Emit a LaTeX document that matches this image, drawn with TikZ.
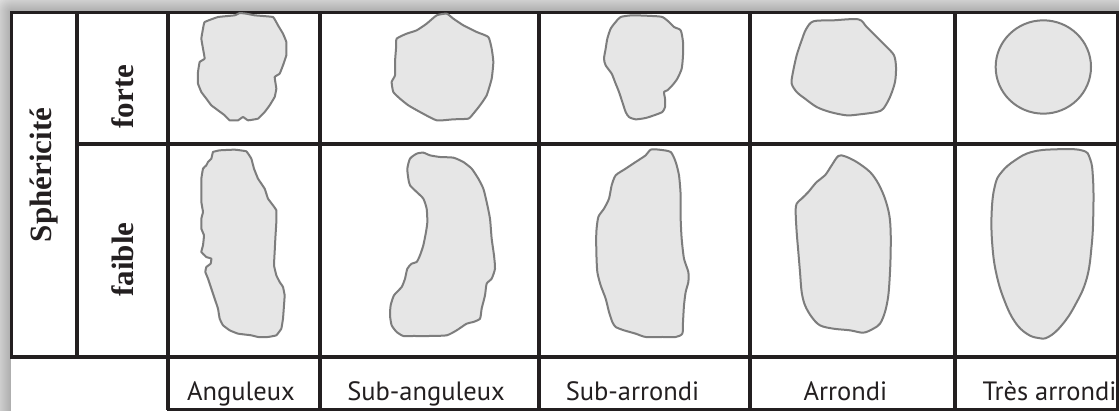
\documentclass[tikz,border=0pt]{standalone}
\usepackage{fontspec}
\setmainfont{Liberation Serif}
\newfontfamily\labelfont{PT Sans}
\definecolor{ink}{HTML}{231F20}
\definecolor{grainfill}{HTML}{E6E6E6}
\definecolor{grainedge}{HTML}{7D7D7D}
\begin{document}
\begin{tikzpicture}[x=1pt,y=-1pt,
  rule/.style={line width=3.5pt, draw=ink},
  grain/.style={fill=grainfill, draw=grainedge, line width=2pt, line join=round},
  rowhead/.style={rotate=90, font=\bfseries\fontsize{31}{36}\selectfont, text=ink, inner sep=0pt},
  roundness/.style={font=\labelfont\fontsize{26.5}{30}\selectfont, text=ink, anchor=base, inner sep=0pt},
  cell/.style={shift={#1}, scale=1/3}]
\useasboundingbox (0,0) rectangle (1119,411);

% soft shadow around the table
\begin{scope}
  \clip (0,0) rectangle (1119,411);
  \foreach \i in {0,...,24}
    \fill[black, opacity=0.016, rounded corners=\i pt] (11-\i,12-\i) rectangle (1150+\i,440+\i);
  \fill[white] (11,12) rectangle (1119,411);
\end{scope}

% grid
\draw[rule] (11.5,357) -- (11.5,12.5) -- (1119,12.5);
\draw[rule] (10,357) -- (1119,357);
\draw[rule] (77,12) -- (77,357);
\draw[rule] (77,144) -- (1119,144);
\foreach \cx in {168,320,539,750,955,1117.5}
  \draw[rule] (\cx,12) -- (\cx,409.5);
\draw[rule, line width=3pt] (166.5,409.5) -- (1119,409.5);

% row headers
\node[rowhead] (spher) at (44,175) {Sphéricité};
\node[rowhead] (forte) at (123,96.5) {forte};
\node[rowhead] (faible) at (123,259.5) {faible};

% roundness classes
\node[roundness] (ang) at (241,400) {Anguleux};
\node[roundness] (sang) at (426,400) {Sub-anguleux};
\node[roundness] (sarr) at (632.5,400) {Sub-arrondi};
\node[roundness] (arr) at (845.5,400) {Arrondi};
\node[roundness] (tarr) at (1049.5,400) {Très arrondi};

% Anguleux
\begin{scope}[cell={(168,12)}]
  \draw[grain] plot[smooth cycle, tension=0.15] coordinates {
    (110,30) (150,15) (200,10) (215,3) (235,5) (260,10) (315,15) (330,40)
    (345,65) (355,90) (355,130) (345,160) (335,185) (320,195) (325,230)
    (320,255) (305,280) (290,300) (270,320) (240,325) (225,315) (210,325)
    (185,325) (170,310) (150,295) (130,280) (115,260) (100,240) (90,215)
    (90,180) (95,150) (110,140) (105,110) (100,80) (105,50)};
  \draw[grain] plot[smooth cycle, tension=0.15] coordinates {
    (135,420) (155,415) (200,413) (235,418) (250,440) (258,470) (270,500)
    (290,530) (300,560) (315,580) (325,595) (325,630) (322,680) (320,720)
    (318,760) (325,790) (335,810) (345,825) (350,850) (348,880) (345,920)
    (340,950) (325,970) (300,975) (270,975) (250,970) (210,965) (185,955)
    (165,940) (155,920) (150,890) (140,860) (130,830) (120,800) (112,780)
    (115,765) (128,755) (130,740) (115,735) (100,720) (105,700) (108,670)
    (100,650) (100,620) (105,600) (100,570) (100,530) (100,500) (105,470)
    (115,460) (120,450) (130,440)};
\end{scope}

% Sub-anguleux
\begin{scope}[cell={(320,12)}]
  \draw[grain] plot[smooth cycle, tension=0.3] coordinates {
    (230,80) (260,65) (290,55) (320,35) (350,10) (380,5) (400,20) (430,40)
    (470,60) (505,75) (515,110) (520,150) (515,200) (500,250) (480,280)
    (460,305) (445,320) (400,322) (350,325) (300,300) (265,280) (240,260)
    (220,240) (215,210) (225,190) (225,150) (228,110)};
  \draw[grain] plot[smooth cycle, tension=0.35] coordinates {
    (270,440) (290,425) (310,422) (330,430) (360,435) (400,437) (430,450)
    (455,470) (475,500) (490,530) (500,570) (510,620) (515,680) (522,730)
    (525,770) (515,800) (500,815) (495,850) (485,890) (480,920) (460,930)
    (440,935) (410,955) (380,970) (330,972) (280,972) (250,972) (230,960)
    (215,940) (210,910) (212,880) (222,850) (245,825) (255,800) (262,770)
    (275,755) (290,750) (300,730) (310,700) (318,660) (322,630) (320,590)
    (310,560) (290,540) (270,520) (265,500) (262,470)};
\end{scope}

% Sub-arrondi
\begin{scope}[cell={(539,12)}]
  \draw[grain] plot[smooth cycle, tension=0.4] coordinates {
    (245,15) (280,10) (340,12) (370,15) (390,30) (405,45) (425,55) (432,90)
    (432,130) (428,170) (415,200) (400,220) (385,235) (375,240) (378,260)
    (378,285) (370,300) (345,310) (320,318) (290,322) (270,315) (260,300)
    (250,270) (240,240) (228,210) (218,185) (200,160) (195,140) (200,110)
    (205,80) (215,50) (230,30)};
  \draw[grain] plot[smooth cycle, tension=0.4] coordinates {
    (335,413) (360,413) (395,420) (410,450) (420,490) (425,550) (425,620)
    (428,680) (435,740) (448,780) (448,810) (440,840) (435,880) (432,930)
    (430,965) (410,975) (370,975) (320,975) (290,965) (255,955) (230,945)
    (220,930) (210,900) (200,860) (185,820) (175,780) (172,720) (172,660)
    (178,615) (195,590) (210,560) (218,520) (230,490) (260,470) (290,450)
    (320,430)};
\end{scope}

% Arrondi
\begin{scope}[cell={(750,12)}]
  \draw[grain] plot[smooth cycle, tension=0.5] coordinates {
    (190,28) (250,25) (325,22) (350,45) (380,75) (410,105) (432,130)
    (438,165) (435,210) (420,255) (400,290) (380,300) (330,307) (290,310)
    (240,300) (200,285) (165,260) (140,240) (125,215) (128,185) (140,130)
    (155,85) (168,52)};
  \draw[grain] plot[smooth cycle, tension=0.55] coordinates {
    (265,432) (285,433) (320,450) (360,480) (385,515) (405,560) (418,610)
    (422,660) (422,720) (420,780) (415,850) (405,900) (390,935) (370,950)
    (340,962) (300,955) (250,950) (210,940) (185,915) (165,880) (155,840)
    (150,780) (145,720) (140,660) (137,600) (140,575) (155,560) (175,540)
    (200,510) (225,490) (245,460)};
\end{scope}

% Tres arrondi
\begin{scope}[cell={(955,12)}]
  \draw[grain] (265,165) ellipse [x radius=143, y radius=140];
  \draw[grain] plot[smooth cycle, tension=0.7] coordinates {
    (300,412) (380,415) (405,440) (414,500) (415,600) (410,700) (395,800)
    (360,880) (320,940) (280,975) (250,978) (215,965) (180,930) (150,870)
    (125,790) (112,700) (110,600) (120,520) (140,480) (180,445) (230,420)};
\end{scope}
\end{tikzpicture}
\end{document}
